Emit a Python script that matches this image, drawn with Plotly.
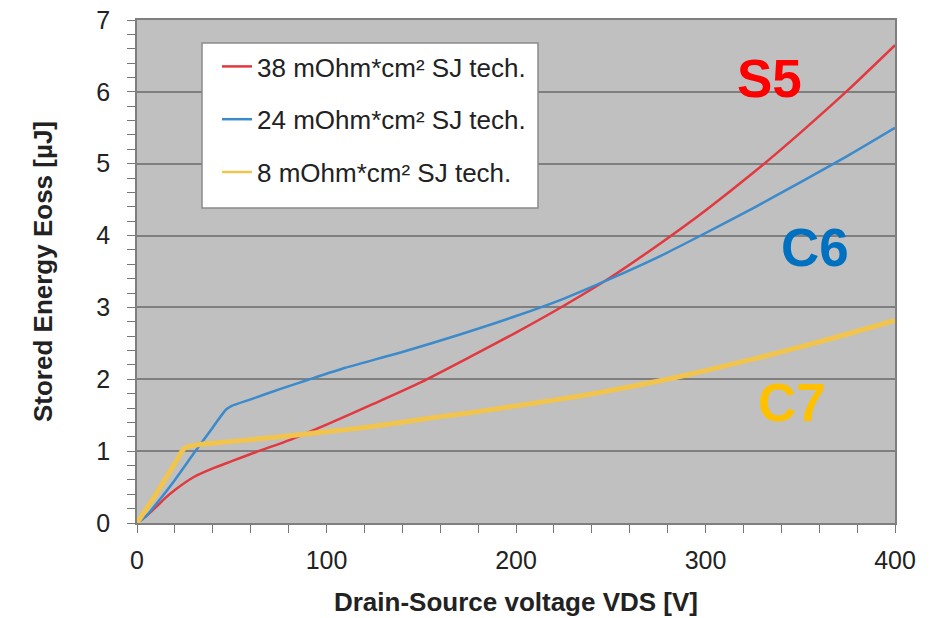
import plotly.graph_objects as go

# ---- data ----
v_38 = [0, 5, 10, 15, 20, 30, 40, 50, 60, 80, 100, 125, 150, 175, 200, 225, 250, 275, 300, 325, 350, 375, 400]
e_38 = [0, 0.10, 0.22, 0.35, 0.46, 0.64, 0.76, 0.86, 0.96, 1.15, 1.37, 1.66, 1.96, 2.30, 2.65, 3.02, 3.42, 3.87, 4.35, 4.87, 5.43, 6.02, 6.65]

v_24 = [0, 5, 10, 20, 30, 40, 47, 50, 60, 75, 90, 110, 140, 170, 200, 225, 250, 275, 296, 325, 350, 375, 400]
e_24 = [0, 0.10, 0.26, 0.60, 0.97, 1.33, 1.58, 1.63, 1.72, 1.86, 1.99, 2.16, 2.38, 2.62, 2.88, 3.12, 3.40, 3.70, 3.98, 4.38, 4.74, 5.11, 5.50]

v_8 = [0, 10, 20, 25, 30, 40, 60, 83, 100, 120, 139, 160, 180, 200, 220, 245, 278, 300, 325, 350, 375, 400]
e_8 = [0, 0.40, 0.83, 1.04, 1.08, 1.11, 1.16, 1.22, 1.27, 1.33, 1.40, 1.48, 1.55, 1.63, 1.71, 1.82, 1.99, 2.12, 2.28, 2.45, 2.63, 2.82]

names = ["38 mOhm*cm² SJ tech.", "24 mOhm*cm² SJ tech.", "8 mOhm*cm² SJ tech."]
colors = ["#e2383f", "#3b8acb", "#f1c44e"]
widths = [2.5, 2.5, 5]

labels = ["S5", "C6", "C7"]
label_colors = ["#ff0000", "#0070c0", "#ffc000"]
label_x = [334, 358, 345.5]
label_y = [6.18, 3.84, 1.68]

FONT = "Liberation Sans, Arial, sans-serif"

fig = go.Figure()
for i, (vx, ey) in enumerate([(v_38, e_38), (v_24, e_24), (v_8, e_8)]):
    fig.add_trace(go.Scatter(
        x=vx, y=ey, mode="lines", name=names[i], showlegend=False,
        line=dict(color=colors[i], width=widths[i], shape="spline", smoothing=0.6),
    ))
# legend entries (thin sample lines, as in the reference legend)
for i in range(3):
    fig.add_trace(go.Scatter(
        x=[None], y=[None], mode="lines", name=names[i],
        line=dict(color=colors[i], width=2.5), legendgroup=f"g{i}",
    ))

for t, c, x, y in zip(labels, label_colors, label_x, label_y):
    fig.add_annotation(x=x, y=y, xref="x", yref="y", text=f"<b>{t}</b>", showarrow=False,
                       font=dict(family=FONT, size=53, color=c))

# legend box
fig.add_shape(type="rect", xref="paper", yref="paper",
              x0=(202 - 137) / 758, x1=(538 - 137) / 758,
              y0=(523 - 208) / 503, y1=(523 - 43) / 503,
              fillcolor="white", line=dict(color="#8a8a8a", width=1.5), layer="above")

fig.update_layout(
    width=948, height=618,
    margin=dict(l=137, r=53, t=20, b=95),
    paper_bgcolor="white", plot_bgcolor="#c0c0c0",
    font=dict(family=FONT, color="#222222"),
    showlegend=True,
    legend=dict(x=(217 - 137) / 758, y=(523 - 43) / 503, xanchor="left", yanchor="top",
                bgcolor="rgba(0,0,0,0)", borderwidth=0,
                font=dict(family=FONT, size=26, color="#222222"),
                tracegroupgap=16, itemwidth=30),
)

fig.update_xaxes(
    range=[0, 400], dtick=100, tick0=0, showgrid=False, zeroline=False, automargin=False,
    ticks="outside", ticklen=8, tickcolor="#777777", tickwidth=1,
    minor=dict(dtick=20, ticks="outside", ticklen=8, tickcolor="#777777", showgrid=False),
    showline=True, linecolor="#7f7f7f", linewidth=1.5, mirror=True,
    tickfont=dict(family=FONT, size=25, color="#222222"),
    ticklabelstandoff=6,
    title=dict(text="<b>Drain-Source voltage VDS [V]</b>", font=dict(family=FONT, size=26, color="#222222"), standoff=20),
)
fig.update_yaxes(
    range=[0, 7], dtick=1, tick0=0, showgrid=True, gridcolor="#7f7f7f", gridwidth=1.5, zeroline=False, automargin=False,
    ticks="outside", ticklen=8, tickcolor="#777777", tickwidth=1,
    minor=dict(dtick=0.2, ticks="outside", ticklen=8, tickcolor="#777777", showgrid=False),
    showline=True, linecolor="#7f7f7f", linewidth=1.5, mirror=True,
    tickfont=dict(family=FONT, size=25, color="#222222"),
    ticklabelstandoff=12,
    title=dict(text="<b>Stored Energy Eoss [µJ]</b>", font=dict(family=FONT, size=26, color="#222222"), standoff=36),
)

fig.write_html("out.html")
